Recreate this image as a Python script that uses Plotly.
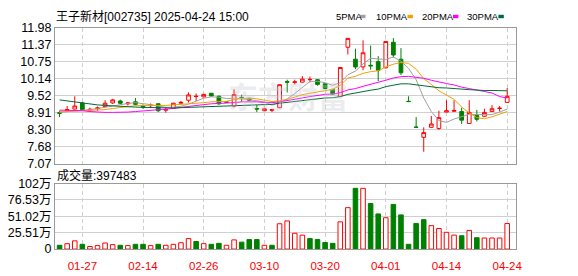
import plotly.graph_objects as go
import numpy as np

# ---------------- data ----------------
dates = ["2025-01-22", "2025-01-23", "2025-01-24", "2025-01-27",
         "2025-02-05", "2025-02-06", "2025-02-07", "2025-02-10", "2025-02-11", "2025-02-12",
         "2025-02-13", "2025-02-14", "2025-02-17", "2025-02-18", "2025-02-19", "2025-02-20",
         "2025-02-21", "2025-02-24", "2025-02-25", "2025-02-26", "2025-02-27", "2025-02-28",
         "2025-03-03", "2025-03-04", "2025-03-05", "2025-03-06", "2025-03-07", "2025-03-10",
         "2025-03-11", "2025-03-12", "2025-03-13", "2025-03-14", "2025-03-17", "2025-03-18",
         "2025-03-19", "2025-03-20", "2025-03-21", "2025-03-24", "2025-03-25", "2025-03-26",
         "2025-03-27", "2025-03-28", "2025-03-31", "2025-04-01", "2025-04-02", "2025-04-03",
         "2025-04-07", "2025-04-08", "2025-04-09", "2025-04-10", "2025-04-11", "2025-04-14",
         "2025-04-15", "2025-04-16", "2025-04-17", "2025-04-18", "2025-04-21", "2025-04-22",
         "2025-04-23", "2025-04-24"]

opens = [8.91, 9.00, 9.04, 9.26, 9.00, 9.05, 9.13, 9.26, 9.33, 9.23,
         9.30, 9.14, 9.16, 9.23, 9.00, 9.07, 9.25, 9.36, 9.49, 9.48,
         9.61, 9.50, 9.30, 9.15, 9.46, 9.43, 9.06, 8.98, 8.99, 9.09,
         10.03, 10.00, 10.01, 10.10, 10.10, 9.95, 9.75, 9.50, 11.27, 10.84,
         10.56, 10.62, 10.75, 10.53, 11.45, 10.84, 9.32, 8.39, 8.02, 8.38,
         8.34, 8.93, 8.96, 8.95, 8.52, 8.81, 8.78, 8.95, 9.06, 9.28]
highs = [8.98, 9.15, 9.50, 9.30, 9.09, 9.13, 9.36, 9.41, 9.38, 9.30,
         9.44, 9.21, 9.24, 9.25, 9.12, 9.27, 9.33, 9.64, 9.60, 9.59,
         9.62, 9.53, 9.31, 9.75, 9.56, 9.44, 9.18, 9.07, 9.04, 9.92,
         10.10, 10.10, 10.23, 10.21, 10.12, 9.97, 9.77, 10.54, 11.59, 11.22,
         11.52, 11.33, 10.95, 11.48, 11.60, 11.24, 9.50, 8.75, 8.38, 8.79,
         8.98, 9.36, 9.36, 9.09, 9.36, 9.01, 9.05, 9.18, 9.15, 9.80]
lows = [8.75, 8.96, 9.03, 8.99, 8.93, 8.98, 9.10, 9.22, 9.21, 9.17,
        9.17, 9.05, 9.10, 8.93, 8.91, 9.05, 9.20, 9.28, 9.33, 9.46,
        9.50, 9.19, 9.27, 9.10, 9.31, 9.34, 8.93, 8.96, 8.93, 9.07,
        9.64, 9.93, 10.00, 10.00, 9.88, 9.75, 9.55, 9.47, 11.01, 10.48,
        10.44, 10.46, 10.05, 10.50, 10.90, 10.27, 9.31, 8.38, 7.50, 8.37,
        8.29, 8.93, 8.94, 8.50, 8.50, 8.59, 8.75, 8.94, 8.95, 9.26]
closes = [8.89, 9.02, 9.15, 9.02, 9.03, 9.08, 9.25, 9.37, 9.25, 9.26,
          9.21, 9.12, 9.18, 8.98, 9.02, 9.25, 9.28, 9.55, 9.50, 9.57,
          9.51, 9.23, 9.29, 9.56, 9.45, 9.36, 9.04, 9.05, 9.02, 9.92,
          10.01, 10.02, 10.12, 10.11, 9.93, 9.78, 9.58, 10.54, 11.59, 10.56,
          11.07, 10.60, 10.44, 11.48, 10.99, 10.35, 9.31, 8.38, 8.19, 8.50,
          8.73, 8.98, 8.99, 8.64, 8.92, 8.67, 8.92, 9.05, 9.07, 9.50]
prev_close = 8.95  # close of the day before the window (volume colour of first bar)

volume_wan = [5.9, 8.4, 12.8, 7.4, 4.0, 5.4, 9.4, 6.9, 5.9, 5.4,
              7.4, 7.4, 5.4, 7.4, 5.9, 7.4, 9.9, 16.3, 11.8, 8.4,
              7.4, 8.9, 5.9, 14.3, 10.8, 14.8, 14.8, 5.9, 5.9, 39.4,
              43.8, 24.6, 21.7, 16.3, 14.8, 10.3, 8.9, 42.4, 64.5, 94.6,
              94.6, 70.9, 54.7, 48.8, 69.5, 53.2, 7.4, 39.9, 45.8, 36.5,
              32.0, 26.1, 21.7, 20.7, 29.1, 17.7, 17.2, 17.2, 17.2, 39.75]

ma5 = [8.92, 8.94, 8.98, 9.00, 9.02, 9.06, 9.11, 9.15, 9.20, 9.24,
       9.27, 9.24, 9.20, 9.15, 9.10, 9.11, 9.14, 9.22, 9.32, 9.43,
       9.48, 9.47, 9.42, 9.43, 9.41, 9.38, 9.34, 9.29, 9.18, 9.28,
       9.41, 9.60, 9.82, 10.04, 10.04, 9.99, 9.90, 9.99, 10.28, 10.41,
       10.67, 10.87, 10.85, 10.83, 10.92, 10.77, 10.51, 10.10, 9.44, 8.95,
       8.62, 8.56, 8.68, 8.77, 8.85, 8.84, 8.83, 8.84, 8.93, 9.04]
ma10 = [8.94, 8.95, 8.96, 8.97, 8.98, 8.99, 9.02, 9.06, 9.10, 9.13,
        9.16, 9.17, 9.18, 9.17, 9.17, 9.19, 9.19, 9.21, 9.24, 9.27,
        9.30, 9.31, 9.32, 9.38, 9.42, 9.43, 9.41, 9.36, 9.31, 9.34,
        9.39, 9.47, 9.56, 9.61, 9.66, 9.70, 9.75, 9.90, 10.16, 10.22,
        10.33, 10.39, 10.42, 10.56, 10.66, 10.72, 10.69, 10.48, 10.14, 9.93,
        9.70, 9.54, 9.39, 9.11, 8.90, 8.73, 8.69, 8.76, 8.85, 8.95]
ma20 = [9.00, 9.00, 9.00, 8.98, 8.95, 8.93, 8.92, 8.92, 8.92, 8.93,
        8.95, 8.97, 8.99, 9.01, 9.03, 9.06, 9.10, 9.14, 9.17, 9.20,
        9.23, 9.24, 9.25, 9.27, 9.30, 9.31, 9.30, 9.28, 9.27, 9.30,
        9.34, 9.39, 9.44, 9.49, 9.54, 9.57, 9.58, 9.63, 9.73, 9.78,
        9.86, 9.93, 9.99, 10.08, 10.16, 10.21, 10.22, 10.19, 10.15, 10.08,
        10.01, 9.96, 9.91, 9.83, 9.78, 9.73, 9.69, 9.62, 9.49, 9.44]
ma30 = [9.37, 9.33, 9.29, 9.25, 9.22, 9.19, 9.17, 9.15, 9.13, 9.12,
        9.11, 9.10, 9.09, 9.08, 9.08, 9.08, 9.09, 9.10, 9.11, 9.12,
        9.13, 9.14, 9.15, 9.16, 9.17, 9.18, 9.19, 9.20, 9.21, 9.25,
        9.28, 9.32, 9.35, 9.39, 9.42, 9.44, 9.45, 9.49, 9.57, 9.61,
        9.67, 9.72, 9.76, 9.85, 9.91, 9.95, 9.95, 9.91, 9.87, 9.83,
        9.81, 9.80, 9.79, 9.76, 9.74, 9.72, 9.71, 9.71, 9.71, 9.70]

price_tick_labels = ["7.07", "7.68", "8.30", "8.91", "9.52", "10.14", "10.75", "11.37", "11.98"]
price_min, price_max = 7.07, 11.98
vol_tick_values = [0, 25.51, 51.02, 76.53, 102]
vol_tick_labels = ["0", "25.51万", "51.02万", "76.53万", "102万"]
xtick_dates = ["2025-01-27", "2025-02-14", "2025-02-26", "2025-03-10",
               "2025-03-20", "2025-04-01", "2025-04-14", "2025-04-24"]
xtick_labels = ["01-27", "02-14", "02-26", "03-10", "03-20", "04-01", "04-14", "04-24"]

title_text = "王子新材[002735] 2025-04-24 15:00"
volume_text = "成交量:397483"
ma_names = ["5PMA", "10PMA", "20PMA", "30PMA"]

# ---------------- styling ----------------
W, H = 578, 276
RED = "#ff0000"
GREEN = "#008000"
MA_COLORS = ["#a0a0a0", "#f5a000", "#ff00ff", "#006b36"]
GRID = "#d0d0d0"
FRAME = "#999999"
NUM_FONT = "Liberation Sans, Arial, sans-serif"
CJK_FONT = "Liberation Sans, Noto Sans CJK SC, sans-serif"


def px_x(x):
    return x / W


def px_y(y):
    return 1 - y / H


plot_left, plot_right = 55.7, 522.0
price_top, price_bottom = 21.7, 165.0
vol_top, vol_bottom = 186.0, 255.0
n = len(dates)
x_range = [-0.6, n - 1 + 1.12]

fig = go.Figure()

fig.add_trace(go.Candlestick(
    x=dates, open=opens, high=highs, low=lows, close=closes,
    increasing=dict(line=dict(color=RED, width=1), fillcolor="#ffffff"),
    decreasing=dict(line=dict(color=GREEN, width=1), fillcolor=GREEN),
    whiskerwidth=0, xaxis="x", yaxis="y", hoverinfo="skip"))

for vals, col in zip([ma5, ma10, ma20, ma30], MA_COLORS):
    fig.add_trace(go.Scatter(x=dates, y=vals, mode="lines",
                             line=dict(color=col, width=1),
                             xaxis="x", yaxis="y", hoverinfo="skip"))

prevs = [prev_close] + closes[:-1]
up = [c >= p for c, p in zip(closes, prevs)]
fig.add_trace(go.Bar(
    x=dates, y=volume_wan, width=0.6,
    marker=dict(color=["#ffffff" if u else GREEN for u in up],
                line=dict(color=[RED if u else GREEN for u in up], width=1)),
    xaxis="x2", yaxis="y2", hoverinfo="skip"))

common_x = dict(type="category", categoryorder="array", categoryarray=dates,
                range=x_range, domain=[px_x(plot_left), px_x(plot_right)],
                tickvals=xtick_dates, showgrid=True, gridcolor=GRID,
                griddash="4px,3px", gridwidth=1, showline=True, mirror=True,
                linecolor=FRAME, linewidth=1, ticks="", zeroline=False,
                fixedrange=True)

fig.update_layout(
    width=W, height=H, margin=dict(l=0, r=0, t=0, b=0),
    paper_bgcolor="#ffffff", plot_bgcolor="#ffffff", showlegend=False,
    xaxis=dict(common_x, anchor="y", showticklabels=False,
               rangeslider=dict(visible=False)),
    xaxis2=dict(common_x, anchor="y2", ticktext=xtick_labels,
                ticklabelstandoff=6,
                tickfont=dict(family=NUM_FONT, size=11.5, color=RED)),
    yaxis=dict(domain=[px_y(price_bottom), px_y(price_top)],
               range=[price_min, price_max],
               tickvals=list(np.linspace(price_min, price_max, len(price_tick_labels))),
               ticktext=price_tick_labels, showgrid=True, gridcolor=GRID,
               showline=True, mirror=True, linecolor=FRAME, linewidth=1,
               ticks="", zeroline=False, anchor="x",
               tickfont=dict(family=NUM_FONT, size=12.5, color="#000000")),
    yaxis2=dict(domain=[px_y(vol_bottom), px_y(vol_top)],
                range=[0, 102], tickvals=vol_tick_values, ticktext=vol_tick_labels,
                showgrid=True, gridcolor=GRID, showline=True, mirror=True,
                linecolor=FRAME, linewidth=1, ticks="", zeroline=False,
                anchor="x2",
                tickfont=dict(family=CJK_FONT, size=12.5, color="#000000")),
)

annotations = [
    dict(text=title_text, x=px_x(55), y=px_y(9.5), xref="paper", yref="paper",
         xanchor="left", yanchor="middle", showarrow=False,
         font=dict(family=CJK_FONT, size=12, color="#000000")),
    dict(text=volume_text, x=px_x(56), y=px_y(177.5), xref="paper", yref="paper",
         xanchor="left", yanchor="middle", showarrow=False,
         font=dict(family=CJK_FONT, size=12, color="#000000")),
    dict(text="<b>东方财富</b>", x=px_x(292), y=px_y(93), xref="paper", yref="paper",
         xanchor="center", yanchor="middle", showarrow=False,
         font=dict(family="Noto Sans CJK SC", size=30, color="rgba(200,200,210,0.35)")),
]
legend_x = [338, 379, 425, 471]
square_x = [364.5, 412.5, 458.5, 504.5]
shapes = []
for name, lx, sx, col in zip(ma_names, legend_x, square_x, MA_COLORS):
    annotations.append(dict(text=name, x=px_x(lx), y=px_y(10), xref="paper",
                            yref="paper", xanchor="left", yanchor="middle",
                            showarrow=False,
                            font=dict(family=NUM_FONT, size=9.5, color="#000000")))
    shapes.append(dict(type="rect", xref="paper", yref="paper",
                       x0=px_x(sx), x1=px_x(sx + 5.5), y0=px_y(11.8), y1=px_y(8.2),
                       fillcolor=col, line=dict(width=0)))
fig.update_layout(annotations=annotations, shapes=shapes)

fig.write_html("out.html")
